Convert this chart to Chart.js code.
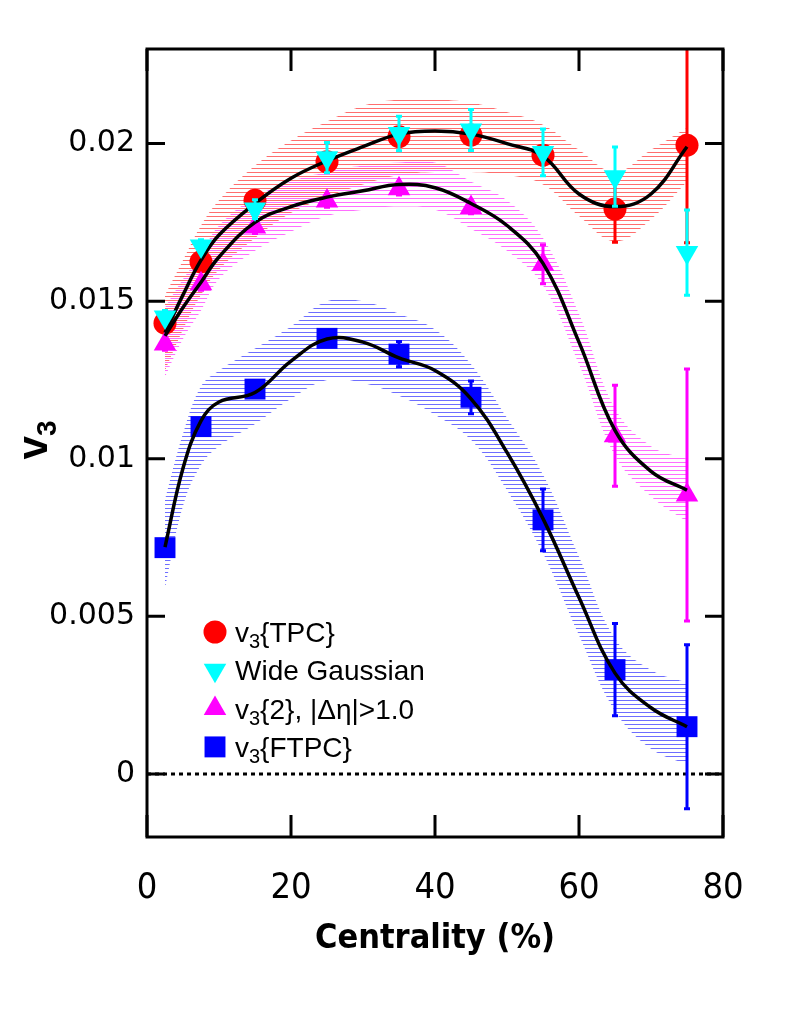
<!DOCTYPE html>
<html>
<head>
<meta charset="utf-8">
<title>v3 vs centrality</title>
<script src="https://cdn.jsdelivr.net/npm/chart.js@4.4.1/dist/chart.umd.min.js"></script>
<style>
  html, body { margin: 0; padding: 0; background: #fff; }
  #wrap { width: 788px; height: 1022px; position: relative; }
</style>
</head>
<body>
<div id="wrap"><canvas id="chart"></canvas></div>
<script>
"use strict";

// centrality bin centres (%)
const centrality = [2.5, 7.5, 15, 25, 35, 45, 55, 65, 75];

const tpcV3   = [0.0143, 0.01625, 0.0182, 0.01942, 0.02022, 0.02027, 0.01963, 0.01792, 0.01995];
const tpcErr  = [0.0002, 0.0002, 0.0002, 0.0002, 0.0002, 0.0002, 0.0003, 0.00105, 0.0031];
const wideV3  = [0.0145, 0.01675, 0.01792, 0.01955, 0.02032, 0.02043, 0.01972, 0.01895, 0.01654];
const wideErr = [0.0002, 0.0002, 0.0003, 0.00048, 0.00055, 0.00065, 0.00074, 0.00094, 0.00135];
const etaV3   = [0.01364, 0.01555, 0.01735, 0.01818, 0.01857, 0.01797, 0.01617, 0.01073, 0.00885];
const etaErr  = [0.0002, 0.0002, 0.0002, 0.0002, 0.0002, 0.0002, 0.00062, 0.0016, 0.0040];
const ftpcV3  = [0.00718, 0.01102, 0.01221, 0.01382, 0.01332, 0.01195, 0.00806, 0.00331, 0.0015];
const ftpcErr = [0.0002, 0.0002, 0.0002, 0.0002, 0.0004, 0.00052, 0.00098, 0.00146, 0.0026];

// smooth fit curves and systematic bands
const fitX      = [2.5, 5, 7.5, 10, 15, 20, 25, 30, 35, 40, 45, 50, 55, 60, 65, 70, 75];
const tpcFit    = [0.0140, 0.0152, 0.0163, 0.0171, 0.0181, 0.0189, 0.01945, 0.0199, 0.0203, 0.0204, 0.0203, 0.0200, 0.0196, 0.0184, 0.0180, 0.0184, 0.0199];
const tpcHigh   = [0.0152, 0.0163, 0.0174, 0.0182, 0.0193, 0.0201, 0.0207, 0.0212, 0.0214, 0.0214, 0.0213, 0.0210, 0.0206, 0.0198, 0.0191, 0.0198, 0.0205];
const tpcLow    = [0.0128, 0.0141, 0.0152, 0.0160, 0.0170, 0.0178, 0.0183, 0.0187, 0.0190, 0.0191, 0.0191, 0.0190, 0.0187, 0.0177, 0.0169, 0.0176, 0.0188];
const etaFit    = [0.0139, 0.0148, 0.0156, 0.0164, 0.0175, 0.0180, 0.0183, 0.0185, 0.0187, 0.0186, 0.0181, 0.0174, 0.0162, 0.0137, 0.0109, 0.0096, 0.0090];
const etaHigh   = [0.0148, 0.0157, 0.0165, 0.0174, 0.0183, 0.0188, 0.0191, 0.0193, 0.0194, 0.0194, 0.0188, 0.0182, 0.0170, 0.0146, 0.0116, 0.0104, 0.0100];
const etaLow    = [0.0126, 0.0138, 0.0147, 0.0157, 0.0166, 0.0172, 0.0177, 0.0179, 0.0180, 0.0179, 0.0173, 0.0166, 0.0155, 0.0130, 0.0101, 0.0088, 0.0080];
const ftpcFit   = [0.0072, 0.0097, 0.0112, 0.0118, 0.0121, 0.0131, 0.0138, 0.0137, 0.0132, 0.0128, 0.0119, 0.0102, 0.0081, 0.0056, 0.0032, 0.0021, 0.0015];
const ftpcHigh  = [0.0087, 0.0108, 0.0123, 0.0128, 0.0135, 0.0142, 0.0150, 0.0150, 0.0146, 0.0141, 0.0130, 0.0113, 0.0095, 0.0069, 0.0043, 0.0033, 0.0029];
const ftpcLow   = [0.0059, 0.0085, 0.0098, 0.0104, 0.0111, 0.0119, 0.0125, 0.0124, 0.0120, 0.0114, 0.0106, 0.0090, 0.0070, 0.0044, 0.0020, 0.0008, 0.0003];

// axes
const xTicks = [0, 20, 40, 60, 80];
const xTickLabels = ['0', '20', '40', '60', '80'];
const yTicks = [0, 0.005, 0.01, 0.015, 0.02];
const yTickLabels = ['0', '0.005', '0.01', '0.015', '0.02'];
const zeroLineX = [0, 80];
const zeroLineY = [0, 0];

const seriesLabels = ['v_3{TPC}', 'Wide Gaussian', 'v_3{2}, |\u0394\u03b7|>1.0', 'v_3{FTPC}'];
const xTitle = 'Centrality (%)';
const yTitle = 'v_3';

const sans = "'Liberation Sans', Arial, sans-serif";
const narrow = "'Liberation Sans Narrow', 'DejaVu Sans Condensed', 'Liberation Sans', sans-serif";

function pts(xs, ys) {
  return xs.map((x, i) => ({x: x, y: ys[i]}));
}

function hatch(color, offset) {
  const c = document.createElement('canvas');
  c.width = 8;
  c.height = 4;
  const g = c.getContext('2d');
  g.fillStyle = color;
  g.fillRect(0, offset, 8, 1);
  return g.createPattern(c, 'repeat');
}

function markers(label, xs, ys, errs, color, style, radius, rotation, order) {
  return {
    label: label,
    data: pts(xs, ys),
    yErr: errs,
    showLine: false,
    pointStyle: style,
    pointRadius: radius,
    pointHoverRadius: radius,
    pointRotation: rotation,
    pointBackgroundColor: color,
    pointBorderColor: color,
    pointBorderWidth: 0,
    borderColor: color,
    backgroundColor: color,
    order: order
  };
}

function curve(ys) {
  return {
    data: pts(fitX, ys),
    borderColor: '#000',
    borderWidth: 3.5,
    pointRadius: 0,
    tension: 0.4,
    fill: false,
    order: 2
  };
}

function bandEdge(ys, fill) {
  return {
    data: pts(fitX, ys),
    borderWidth: 0,
    borderColor: 'rgba(0,0,0,0)',
    pointRadius: 0,
    tension: 0.4,
    fill: fill || false,
    order: 30
  };
}

// subscripts are written as "_3"
function textParts(s) {
  const out = [];
  const re = /_(\d)/g;
  let last = 0, m;
  while ((m = re.exec(s)) !== null) {
    if (m.index > last) out.push([s.slice(last, m.index), false]);
    out.push([m[1], true]);
    last = m.index + m[0].length;
  }
  if (last < s.length) out.push([s.slice(last), false]);
  return out;
}

function subText(ctx, s, x, y, size, subSize, weight, dry) {
  let w = 0;
  for (const [t, sub] of textParts(s)) {
    ctx.font = weight + ' ' + (sub ? subSize : size) + 'px ' + sans;
    if (!dry) ctx.fillText(t, x + w, sub ? y + size * 0.22 : y);
    w += ctx.measureText(t).width;
  }
  return w;
}

const errorBars = {
  id: 'errorBars',
  beforeDatasetDraw(chart, args) {
    const ds = chart.data.datasets[args.index];
    if (!ds.yErr) return;
    const {ctx, chartArea: a, scales: {x, y}} = chart;
    ctx.save();
    ctx.beginPath();
    ctx.rect(a.left, a.top, a.right - a.left, a.bottom - a.top);
    ctx.clip();
    ctx.strokeStyle = ds.borderColor;
    ctx.lineWidth = 3;
    ds.data.forEach((p, i) => {
      const e = ds.yErr[i];
      const px = x.getPixelForValue(p.x);
      const top = y.getPixelForValue(p.y + e);
      const bot = y.getPixelForValue(p.y - e);
      ctx.beginPath();
      ctx.moveTo(px, top);
      ctx.lineTo(px, bot);
      ctx.moveTo(px - 3, top);
      ctx.lineTo(px + 3, top);
      ctx.moveTo(px - 3, bot);
      ctx.lineTo(px + 3, bot);
      ctx.stroke();
    });
    ctx.restore();
  }
};

const frameTicks = {
  id: 'frameTicks',
  afterDatasetsDraw(chart) {
    const {ctx, chartArea: a, scales: {x, y}} = chart;
    ctx.save();
    ctx.strokeStyle = '#000';
    ctx.lineWidth = 3;
    ctx.strokeRect(a.left, a.top, a.right - a.left, a.bottom - a.top);
    ctx.beginPath();
    for (const v of xTicks) {
      const px = x.getPixelForValue(v);
      ctx.moveTo(px, a.bottom);
      ctx.lineTo(px, a.bottom - 22);
      ctx.moveTo(px, a.top);
      ctx.lineTo(px, a.top + 22);
    }
    for (const v of yTicks) {
      const py = y.getPixelForValue(v);
      ctx.moveTo(a.left, py);
      ctx.lineTo(a.left + 18, py);
      ctx.moveTo(a.right, py);
      ctx.lineTo(a.right - 18, py);
    }
    ctx.stroke();
    ctx.restore();
  }
};

// legend and y title need subscripts, so they are drawn here
const labelsPlugin = {
  id: 'labelsPlugin',
  afterDraw(chart) {
    const ctx = chart.ctx;
    ctx.save();
    ctx.fillStyle = '#000';
    ctx.textBaseline = 'alphabetic';
    ctx.textAlign = 'left';

    const marks = chart.data.datasets.filter(d => d.yErr);
    marks.forEach((d, i) => {
      const cy = 632 + i * 38.3;
      ctx.fillStyle = d.pointBackgroundColor;
      Chart.helpers.drawPoint(ctx, {
        pointStyle: d.pointStyle,
        radius: d.pointRadius,
        rotation: d.pointRotation,
        borderWidth: 0
      }, 215, cy);
      ctx.fillStyle = '#000';
      subText(ctx, d.label, 235, cy + 10, 28, 20, 'normal');
    });

    ctx.translate(34, 440);
    ctx.rotate(-Math.PI / 2);
    const w = subText(ctx, yTitle, 0, 0, 42, 28, 'bold', true);
    subText(ctx, yTitle, -w / 2, 13, 42, 28, 'bold');
    ctx.restore();
  }
};

const datasets = [
  markers(seriesLabels[0], centrality, tpcV3, tpcErr, '#ff0000', 'circle', 11.5, 0, 8),
  markers(seriesLabels[1], centrality, wideV3, wideErr, '#00ffff', 'triangle', 13, 180, 1),
  markers(seriesLabels[2], centrality, etaV3, etaErr, '#ff00ff', 'triangle', 13, 0, 6),
  markers(seriesLabels[3], centrality, ftpcV3, ftpcErr, '#0000ff', 'rect', 14.8, 0, 5),
  curve(tpcFit),
  curve(etaFit),
  curve(ftpcFit),
  {
    data: pts(zeroLineX, zeroLineY),
    borderColor: '#000',
    borderWidth: 3,
    borderDash: [4, 4],
    pointRadius: 0,
    fill: false,
    order: 20
  }
];

// bands: upper edge, then lower edge filled up to it
const bandStart = datasets.length;
datasets.push(bandEdge(ftpcHigh));
datasets.push(bandEdge(ftpcLow, {target: bandStart, above: hatch('#6e6eff', 0), below: hatch('#6e6eff', 0)}));
datasets.push(bandEdge(etaHigh));
datasets.push(bandEdge(etaLow, {target: bandStart + 2, above: hatch('#ff6eff', 2), below: hatch('#ff6eff', 2)}));
datasets.push(bandEdge(tpcHigh));
datasets.push(bandEdge(tpcLow, {target: bandStart + 4, above: hatch('#ff6e6e', 0), below: hatch('#ff6e6e', 0)}));

new Chart(document.getElementById('chart'), {
  type: 'line',
  data: { datasets: datasets },
  plugins: [errorBars, frameTicks, labelsPlugin],
  options: {
    responsive: true,
    maintainAspectRatio: false,
    animation: false,
    events: [],
    layout: { padding: { top: 49, right: 65, left: 0, bottom: 0 } },
    plugins: {
      legend: { display: false },
      tooltip: { enabled: false },
      filler: { drawTime: 'beforeDatasetsDraw' }
    },
    scales: {
      x: {
        type: 'linear',
        min: 0,
        max: 80,
        afterFit: s => { s.height = 185; },
        afterBuildTicks: s => { s.ticks = xTicks.map(v => ({value: v})); },
        grid: { display: false, drawTicks: false },
        border: { display: false },
        ticks: {
          padding: 30,
          color: '#000',
          font: { family: narrow, size: 36 },
          maxRotation: 0,
          callback: (v) => xTickLabels[xTicks.indexOf(v)]
        },
        title: {
          display: true,
          text: xTitle,
          color: '#000',
          font: { family: narrow, size: 34, weight: 'bold' },
          padding: { top: 0, bottom: 62 }
        }
      },
      y: {
        type: 'linear',
        min: -0.002,
        max: 0.023,
        afterFit: s => { s.width = 147; },
        afterBuildTicks: s => { s.ticks = yTicks.map(v => ({value: v})); },
        grid: { display: false, drawTicks: false },
        border: { display: false },
        ticks: {
          padding: 12,
          color: '#000',
          font: { family: "'DejaVu Sans', sans-serif", size: 30 },
          callback: (v) => yTickLabels[yTicks.indexOf(v)]
        }
      }
    }
  }
});
</script>
</body>
</html>
